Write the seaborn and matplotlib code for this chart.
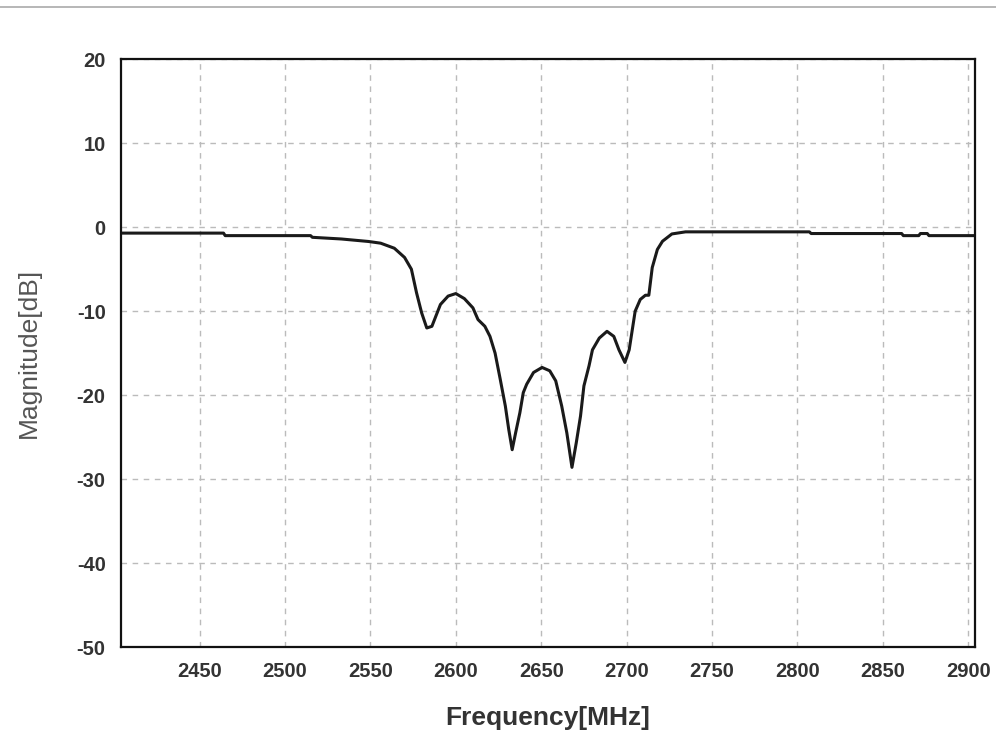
import pandas as pd
import matplotlib
matplotlib.use("Agg")
import matplotlib.pyplot as plt
from matplotlib.lines import Line2D
import seaborn as sns

freq_mhz = [2404, 2464, 2465, 2515, 2516, 2533, 2549, 2556, 2564, 2570,
            2574, 2577, 2580, 2583, 2586, 2591, 2595.5, 2600, 2605, 2610,
            2613, 2617, 2620, 2623, 2626, 2629, 2631, 2633, 2635, 2637.5,
            2639.5, 2641.5, 2645.5, 2650.5, 2655, 2658.5, 2662, 2665, 2668, 2670.5,
            2673, 2675, 2678, 2680, 2684, 2688.5, 2692.5, 2695.5, 2699, 2701.5,
            2705, 2708, 2711, 2713, 2715, 2718, 2721, 2726.5, 2734.5, 2807,
            2808, 2861, 2862, 2871, 2872, 2876, 2877, 2904]
magnitude_db = [-0.7, -0.7, -1.0, -1.0, -1.2, -1.4, -1.7, -1.9, -2.5, -3.6,
                -5.0, -7.8, -10.2, -12.0, -11.8, -9.2, -8.2, -7.9, -8.5, -9.6,
                -11.0, -11.8, -13.0, -15.0, -18.1, -21.3, -24.1, -26.5, -24.5, -22.1,
                -19.7, -18.7, -17.3, -16.7, -17.1, -18.3, -21.3, -24.5, -28.6, -25.7,
                -22.5, -18.9, -16.5, -14.6, -13.2, -12.4, -13.0, -14.6, -16.1, -14.6,
                -10.0, -8.6, -8.1, -8.1, -4.8, -2.65, -1.67, -0.8, -0.55, -0.55,
                -0.75, -0.75, -1.0, -1.0, -0.75, -0.75, -1.0, -1.0]

x_ticks = [2450, 2500, 2550, 2600, 2650, 2700, 2750, 2800, 2850, 2900]
y_ticks = [20, 10, 0, -10, -20, -30, -40, -50]

df = pd.DataFrame({"Frequency": freq_mhz, "Magnitude": magnitude_db})

sns.set_style("white")
plt.rcParams['font.family'] = ['Liberation Sans', 'DejaVu Sans']
plt.rcParams['axes.unicode_minus'] = False

fig = plt.figure(figsize=(9.96, 7.35), dpi=100)
ax = fig.add_axes([0.1215, 0.1197, 0.8575, 0.7996])

sns.lineplot(data=df, x="Frequency", y="Magnitude", ax=ax, color="#1a1a1a",
             linewidth=2.2, sort=False, estimator=None)

ax.set_xlim(2404, 2904)
ax.set_ylim(-50, 20)
ax.set_xticks(x_ticks)
ax.set_yticks(y_ticks)
ax.grid(True, color="#bbbbbb", linestyle=(0, (4, 4)), linewidth=1.0)

ax.tick_params(direction="in", length=8.5, width=1.5, color="#111111",
               labelsize=14.5, labelcolor="#333333", pad=11)
for lbl in ax.get_xticklabels() + ax.get_yticklabels():
    lbl.set_fontweight("bold")
for s in ax.spines.values():
    s.set_linewidth(1.6)
    s.set_color("#111111")

ax.set_xlabel("Frequency[MHz]", fontsize=19, fontweight="bold", color="#333333",
              labelpad=18)
ax.set_ylabel("Magnitude[dB]", fontsize=19, color="#555555", labelpad=26)

# thin gray rule along the top of the image
fig.add_artist(Line2D([0, 1], [0.991, 0.991], color="#aaaaaa", linewidth=1.2,
                      transform=fig.transFigure))

plt.savefig("out.png", dpi=100)
